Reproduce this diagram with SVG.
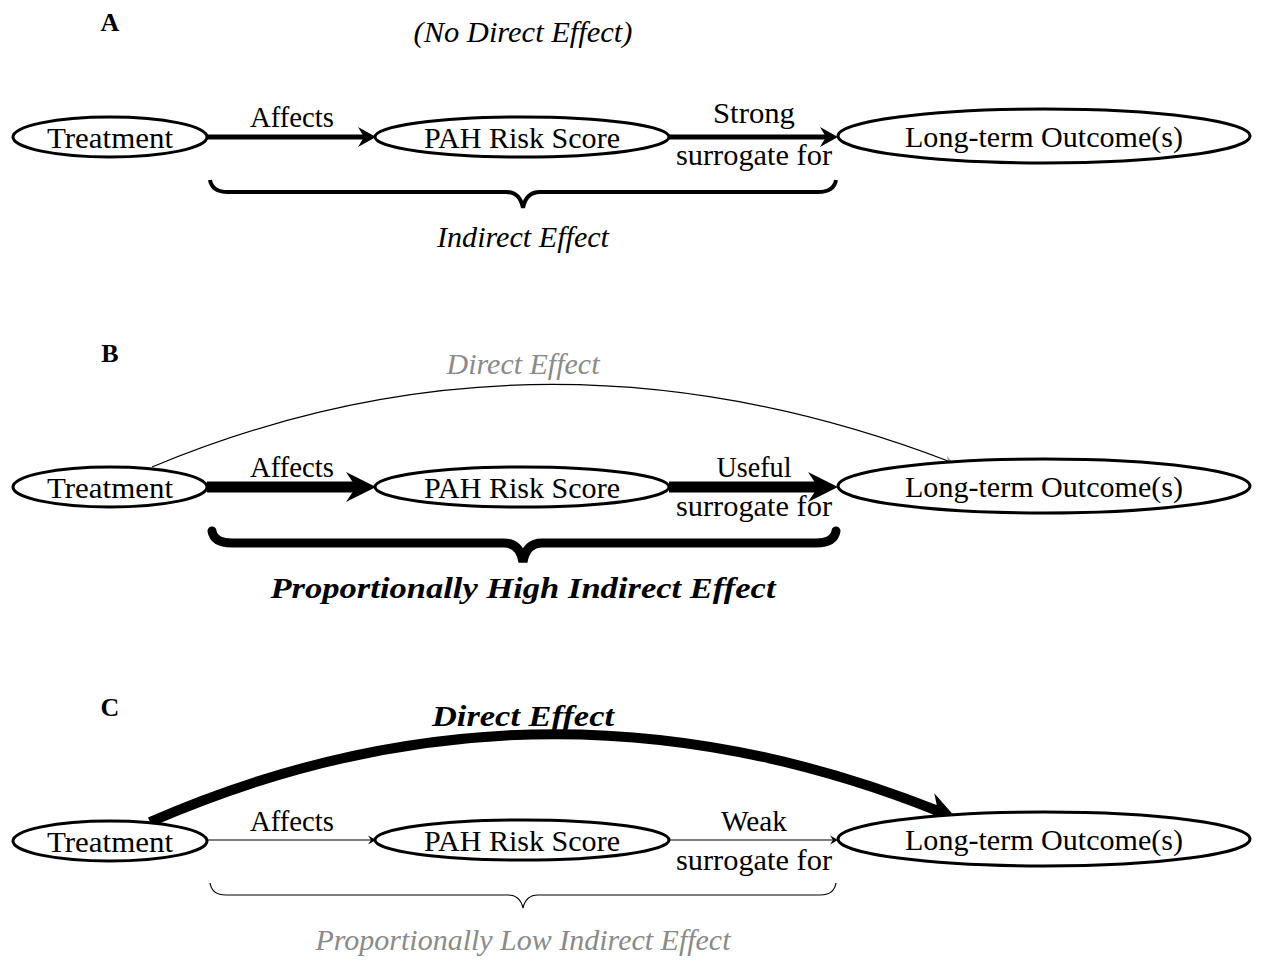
<svg xmlns="http://www.w3.org/2000/svg" width="1263" height="960" viewBox="0 0 1263 960">
<style>
text{font-family:"Liberation Serif","Times New Roman",serif;font-size:30px;fill:#000;text-anchor:middle}
.it{font-style:italic}
.bi{font-style:italic;font-weight:bold}
.gray{fill:#8a8a8a}
.panel{font-weight:bold;font-size:26px}
.node{fill:#fff;stroke:#000;stroke-width:3}
.edge{fill:none;stroke:#000}
</style>
<defs>
<marker id="mA" markerUnits="userSpaceOnUse" viewBox="-20 -12 22 24" markerWidth="22" markerHeight="24" refX="-12" refY="0" orient="auto"><path d="M0,0 L-18,-10 L-12,0 L-18,10 Z" fill="#000"/></marker>
<marker id="mB" markerUnits="userSpaceOnUse" viewBox="-32 -17 34 34" markerWidth="34" markerHeight="34" refX="-20" refY="0" orient="auto"><path d="M0,0 L-30,-15 L-20,0 L-30,15 Z" fill="#000"/></marker>
<marker id="mC" markerUnits="userSpaceOnUse" viewBox="-10 -6 12 12" markerWidth="12" markerHeight="12" refX="-5" refY="0" orient="auto"><path d="M0,0 L-8,-4.5 L-5,0 L-8,4.5 Z" fill="#000"/></marker>
<marker id="mG" markerUnits="userSpaceOnUse" viewBox="-10 -6 12 12" markerWidth="12" markerHeight="12" refX="-5" refY="0" orient="auto"><path d="M0,0 L-8,-4.5 L-5,0 L-8,4.5 Z" fill="#999"/></marker>
</defs>

<!-- Panel A -->
<g id="labelA"><text class="panel" x="110" y="31">A</text><text class="it" x="523" y="42" textLength="219" lengthAdjust="spacingAndGlyphs">(No Direct Effect)</text></g>
<g id="connectors">
<line class="edge" x1="207" y1="137" x2="364" y2="137" stroke-width="5" marker-end="url(#mA)"/>
<line class="edge" x1="669" y1="137" x2="826" y2="137" stroke-width="5" marker-end="url(#mA)"/>
<path class="edge" d="M210,180 Q212,192 228,192 L506,192 Q520,192 523,208 Q526,192 540,192 L818,192 Q834,192 836,180" stroke-width="4"/>

<path class="edge" d="M152,467 Q540,305 948,461" stroke="#999" stroke-width="1.2" marker-end="url(#mG)"/>
<line class="edge" x1="207" y1="487" x2="356" y2="487" stroke-width="11" marker-end="url(#mB)"/>
<line class="edge" x1="669" y1="487" x2="818" y2="487" stroke-width="11" marker-end="url(#mB)"/>
<path class="edge" d="M212,531 Q214,543 232,543 L504,543 Q520,543 523,562 Q526,543 542,543 L816,543 Q834,543 836,531" stroke-width="9" stroke-linecap="round"/>

<path class="edge" d="M150,822 Q540,652 938,811" stroke-width="10" marker-end="url(#mB)"/>
<line class="edge" x1="207" y1="840" x2="371" y2="840" stroke-width="1.2" marker-end="url(#mC)"/>
<line class="edge" x1="669" y1="840" x2="833" y2="840" stroke-width="1.2" marker-end="url(#mC)"/>
<path class="edge" d="M210,883 Q212,895 226,895 L508,895 Q520,895 523,908 Q526,895 538,895 L820,895 Q834,895 836,883" stroke="#8a8a8a" stroke-width="1.2"/>
</g>

<g id="A-treatment"><ellipse class="node" cx="110" cy="137" rx="97" ry="20"/><text x="110" y="148" textLength="126" lengthAdjust="spacingAndGlyphs">Treatment</text></g>
<g id="A-pah"><ellipse class="node" cx="522" cy="137" rx="147" ry="20"/><text x="522" y="148" textLength="196" lengthAdjust="spacingAndGlyphs">PAH Risk Score</text></g>
<g id="A-outcome"><ellipse class="node" cx="1044" cy="136" rx="206" ry="27"/><text x="1044" y="147" textLength="278" lengthAdjust="spacingAndGlyphs">Long-term Outcome(s)</text></g>
<g id="A-edge-labels">
<text x="292" y="127" textLength="84" lengthAdjust="spacingAndGlyphs">Affects</text>
<text x="754" y="123" textLength="82" lengthAdjust="spacingAndGlyphs">Strong</text>
<text x="754" y="165" textLength="156" lengthAdjust="spacingAndGlyphs">surrogate for</text>
<text class="it" x="523" y="247" textLength="172" lengthAdjust="spacingAndGlyphs">Indirect Effect</text>
</g>

<!-- Panel B -->
<g id="labelB"><text class="panel" x="110" y="362">B</text></g>
<g id="B-treatment"><ellipse class="node" cx="110" cy="487" rx="97" ry="20"/><text x="110" y="498" textLength="126" lengthAdjust="spacingAndGlyphs">Treatment</text></g>
<g id="B-pah"><ellipse class="node" cx="522" cy="487" rx="147" ry="20"/><text x="522" y="498" textLength="196" lengthAdjust="spacingAndGlyphs">PAH Risk Score</text></g>
<g id="B-outcome"><ellipse class="node" cx="1044" cy="486" rx="206" ry="27"/><text x="1044" y="497" textLength="278" lengthAdjust="spacingAndGlyphs">Long-term Outcome(s)</text></g>
<g id="B-edge-labels">
<text class="it gray" x="523" y="374" textLength="153" lengthAdjust="spacingAndGlyphs">Direct Effect</text>
<text x="292" y="477" textLength="84" lengthAdjust="spacingAndGlyphs">Affects</text>
<text x="754" y="477" textLength="75" lengthAdjust="spacingAndGlyphs">Useful</text>
<text x="754" y="516" textLength="156" lengthAdjust="spacingAndGlyphs">surrogate for</text>
<text class="bi" x="523" y="598" textLength="505" lengthAdjust="spacingAndGlyphs">Proportionally High Indirect Effect</text>
</g>

<!-- Panel C -->
<g id="labelC"><text class="panel" x="110" y="716">C</text></g>
<g id="C-treatment"><ellipse class="node" cx="110" cy="841" rx="97" ry="20"/><text x="110" y="852" textLength="126" lengthAdjust="spacingAndGlyphs">Treatment</text></g>
<g id="C-pah"><ellipse class="node" cx="522" cy="840" rx="147" ry="20"/><text x="522" y="851" textLength="196" lengthAdjust="spacingAndGlyphs">PAH Risk Score</text></g>
<g id="C-outcome"><ellipse class="node" cx="1044" cy="839" rx="206" ry="27"/><text x="1044" y="850" textLength="278" lengthAdjust="spacingAndGlyphs">Long-term Outcome(s)</text></g>
<g id="C-edge-labels">
<text class="bi" x="523" y="726" textLength="182" lengthAdjust="spacingAndGlyphs">Direct Effect</text>
<text x="292" y="831" textLength="84" lengthAdjust="spacingAndGlyphs">Affects</text>
<text x="754" y="831" textLength="66" lengthAdjust="spacingAndGlyphs">Weak</text>
<text x="754" y="870" textLength="156" lengthAdjust="spacingAndGlyphs">surrogate for</text>
<text class="it gray" x="523" y="950" textLength="415" lengthAdjust="spacingAndGlyphs">Proportionally Low Indirect Effect</text>
</g>
</svg>
